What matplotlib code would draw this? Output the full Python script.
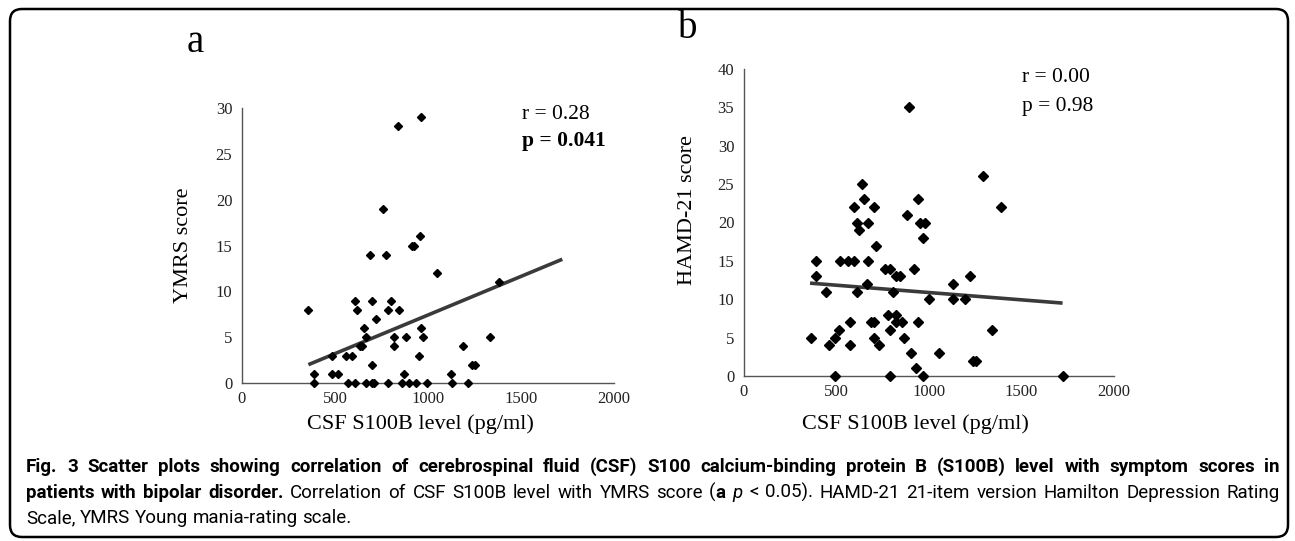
# Fig. 3 - CSF S100B level vs symptom scores (YMRS / HAMD-21)

import numpy as np
import matplotlib.pyplot as plt
from matplotlib.patches import FancyBboxPatch
from matplotlib.transforms import IdentityTransform

# panel a: CSF S100B (pg/ml) vs YMRS score
s100b_a = [357, 389, 389, 486, 486, 518, 557, 590, 568, 607, 618, 607, 633, 643,
           658, 668, 686, 697, 701, 665, 697, 711, 722, 772, 783, 801, 783, 815,
           815, 844, 862, 873, 883, 898, 916, 923, 959, 937, 952, 962, 973, 995,
           1050, 837, 962, 758, 1380, 1333, 1188, 1235, 1250, 1124, 1127, 1216]
ymrs = [8, 1, 0, 3, 1, 1, 3, 3, 0, 9, 8, 0, 4, 4,
        6, 5, 14, 9, 2, 0, 0, 0, 7, 14, 8, 9, 0, 5,
        4, 8, 0, 1, 5, 0, 15, 15, 16, 0, 3, 6, 5, 0,
        12, 28, 29, 19, 11, 5, 4, 2, 2, 1, 0, 0]

# panel b: CSF S100B (pg/ml) vs HAMD-21 score
s100b_b = [360, 391, 391, 441, 461, 492, 492, 512, 521, 560, 593, 573, 573, 596,
           611, 623, 611, 640, 647, 663, 672, 672, 685, 704, 701, 701, 715, 730,
           760, 791, 777, 791, 791, 805, 820, 843, 820, 820, 852, 867, 879, 901,
           921, 932, 942, 942, 953, 980, 966, 967, 1002, 1056, 1128, 1131, 1195,
           1222, 1290, 1389, 1339, 1238, 1252, 1722, 892]
hamd = [5, 15, 13, 11, 4, 0, 5, 6, 15, 15, 15, 7, 4, 22,
        20, 19, 11, 25, 23, 12, 20, 15, 7, 7, 22, 5, 17, 4,
        14, 14, 8, 6, 0, 11, 13, 13, 8, 7, 7, 5, 21, 3,
        14, 1, 23, 7, 20, 20, 18, 0, 10, 3, 10, 12, 10,
        13, 26, 22, 6, 2, 2, 0, 35]

# linear trend lines as drawn in the figure
trend_x = [357, 1722]
trend_ymrs = [2.0, 13.5]
trend_hamd = [12.1, 9.5]

W, H = 1295, 541
serif = ['Liberation Serif', 'DejaVu Serif']
cap_font = ['Roboto', 'Liberation Sans', 'DejaVu Sans']

fig = plt.figure(figsize=(W / 100, H / 100), dpi=100)
renderer = fig.canvas.get_renderer()


def put(txt, x, y, **kw):
    # x, y in pixels measured from the top-left corner
    return fig.text(x / W, 1 - y / H, txt, **kw)


def make_panel(rect, x, y, tx, ty, ymax, ms):
    ax = fig.add_axes([rect[0] / W, 1 - rect[3] / H,
                       (rect[2] - rect[0]) / W, (rect[3] - rect[1]) / H])
    ax.plot(tx, ty, color='#3a3a3a', lw=2.6, solid_capstyle='butt', zorder=2)
    ax.plot(x, y, 'D', color='black', ms=ms, ls='none', clip_on=False, zorder=3)
    ax.set_xlim(0, 2000)
    ax.set_ylim(0, ymax)
    ax.set_xticks([0, 500, 1000, 1500, 2000])
    ax.set_yticks(np.arange(0, ymax + 1, 5))
    for s in ['top', 'right']:
        ax.spines[s].set_visible(False)
    for s in ['left', 'bottom']:
        ax.spines[s].set_color('#555555')
        ax.spines[s].set_linewidth(1.0)
    ax.tick_params(length=0, labelsize=12, colors='#222222')
    ax.tick_params(axis='x', pad=6)
    ax.tick_params(axis='y', pad=7)
    for lab in ax.get_xticklabels() + ax.get_yticklabels():
        lab.set_family(serif)
    return ax


ax1 = make_panel((242, 108, 614, 383), s100b_a, ymrs, trend_x, trend_ymrs, 30, 4.4)
ax2 = make_panel((744, 69, 1114, 376), s100b_b, hamd, trend_x, trend_hamd, 40, 4.8)

# panel letters, axis titles and statistics
put('a', 195, 52, fontsize=28, family=serif, ha='center', va='baseline')
put('b', 688, 38, fontsize=28, family=serif, ha='center', va='baseline')
put('YMRS score', 183, 245, fontsize=16, family=serif, rotation=90, ha='center', va='center')
put('HAMD-21 score', 688, 210, fontsize=16, family=serif, rotation=90, ha='center', va='center')
put('CSF S100B level (pg/ml)', 420, 429, fontsize=16, family=serif, ha='center', va='baseline')
put('CSF S100B level (pg/ml)', 915, 429, fontsize=16, family=serif, ha='center', va='baseline')
put('r = 0.28', 522, 119, fontsize=15.5, family=serif, va='baseline')
put('p = 0.041', 522, 146, fontsize=15.5, family=serif, fontweight='bold', va='baseline')
put('r = 0.00', 1022, 82, fontsize=15.5, family=serif, va='baseline')
put('p = 0.98', 1022, 111, fontsize=15.5, family=serif, va='baseline')


# caption, laid out word by word so that lines can be justified
def words(s, wt='normal', st='normal'):
    return [[(w, wt, st)] for w in s.split()]


def text_width(txt, size, **kw):
    t = put(txt, 0, 0, fontsize=size, family=cap_font, **kw)
    w = t.get_window_extent(renderer).width
    t.remove()
    return w


def caption_line(line, y, size, left=26, right=None):
    placed = []
    for word in line:
        runs = []
        for txt, wt, st in word:
            t = put(txt, 0, y, fontsize=size, fontweight=wt, fontstyle=st,
                    family=cap_font, va='baseline')
            runs.append((t, t.get_window_extent(renderer).width))
        placed.append(runs)
    widths = [sum(w for _, w in runs) for runs in placed]
    if right is None:
        gap = text_width('a a', size) - text_width('aa', size)
    else:
        gap = (right - left - sum(widths)) / (len(placed) - 1)
    x = left
    for runs, w in zip(placed, widths):
        for t, tw in runs:
            t.set_x(x / W)
            x += tw
        x += gap


text1 = ('Fig. 3 Scatter plots showing correlation of cerebrospinal fluid (CSF) '
         'S100 calcium-binding protein B (S100B) level with symptom scores in')
line1 = words(text1, 'bold')
line2 = (words('patients with bipolar disorder.', 'bold')
         + words('Correlation of CSF S100B level with YMRS score')
         + [[('(', 'normal', 'normal'), ('a', 'bold', 'normal')]]
         + [[('p', 'normal', 'italic')]]
         + words('< 0.05). HAMD-21 21-item version Hamilton Depression Rating'))
line3 = words('Scale, YMRS Young mania-rating scale.')

# pick the caption size so that the first line fills the frame width
cap_size = 12.5 * (1280 - 26) / text_width(text1, 12.5, fontweight='bold')
cap_size = min(cap_size, 13.5)

caption_line(line1, 472, cap_size, right=1280)
caption_line(line2, 498, cap_size, right=1280)
caption_line(line3, 523, cap_size)

# rounded frame around the whole figure
frame = FancyBboxPatch((10, H - 537), 1278, 528,
                       boxstyle='round,pad=0,rounding_size=12',
                       transform=IdentityTransform(), fill=False,
                       ec='black', lw=1.8)
fig.add_artist(frame)

fig.savefig('out.png', dpi=100)
